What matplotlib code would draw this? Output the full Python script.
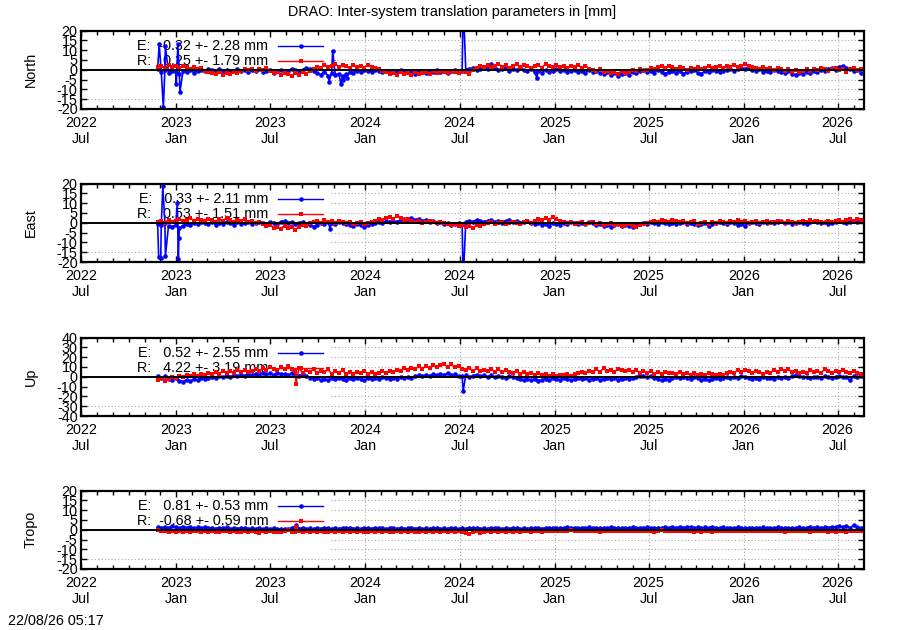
import matplotlib
matplotlib.use("Agg")
import matplotlib.pyplot as plt
import matplotlib.dates as mdates
from matplotlib.patches import Rectangle
import pandas as pd

plt.rcParams['font.family'] = ['Liberation Sans', 'DejaVu Sans']
plt.rcParams['font.size'] = 10.4

# weekly samples, first one on 2022-11-26
first_day = '2022-11-26'

north_E = [0.5, -1.0, 0.0, -1.5, -0.5, -1.0, -2.0, -0.5, -1.0, 0.0, -1.5, -0.5, 0.0,
           -0.5, 0.5, 0.0, -1.0, 0.5, -0.5, 0.0, -1.0, -0.5, 0.5, -0.5, 0.0, -1.0,
           0.0, -0.5, 0.5, -1.0, -0.5, 0.0, -1.5, -0.5, 0.0, -1.0, -0.5, 0.5, 0.0,
           -0.5, 0.0, 1.0, 0.5, -0.5, -1.5, -2.5, -1.0, -3.0, -1.5, -2.5, -2.0, -3.0,
           -2.0, -1.0, -1.5, -0.5, -1.0, 0.0, -0.5, -1.0, 0.0, -0.5, -1.0, -0.5, -1.5,
           -0.5, -1.0, 0.0, -1.5, -0.5, -1.0, -2.0, -0.5, -1.0, -1.5, -0.5, -1.0, 0.0,
           -1.0, -0.5, -1.5, -0.5, 0.0, -1.0, -0.5, 0.0, 0.5, 1.0, 0.0, 0.5, 1.5,
           0.5, 3.0, 1.0, 0.0, 0.5, 1.0, -0.5, 0.5, 0.0, 1.0, 0.0, -0.5, 0.5,
           -1.0, -0.5, -1.5, 0.0, -1.0, -0.5, 0.5, -0.5, 0.0, -1.0, -0.5, 0.0, -1.0,
           -0.5, -1.5, 0.0, -1.0, -0.5, -1.5, -2.0, -1.0, -2.5, -1.5, -3.0, -2.0, -1.5,
           -2.5, -1.0, -1.5, -0.5, 0.0, -1.0, -0.5, -1.5, 0.0, -1.0, -2.0, -1.0, -0.5,
           -1.5, -0.5, -2.0, -1.0, -0.5, 0.0, -1.5, -2.0, -0.5, -1.0, 0.0, -0.5, -1.0,
           -0.5, 0.0, 0.5, -0.5, 0.5, 1.0, 0.5, 1.5, 0.0, -0.5, 0.5, -1.0, -0.5,
           -1.0, 0.0, -0.5, -1.0, -1.5, -0.5, -2.0, -2.5, -1.5, -2.0, -1.0, -1.5, -0.5,
           -1.0, 0.0, -0.5, 0.5, 1.0, 0.0, 1.5, 2.0, 1.0, 0.5, -0.5, 0.0, -1.5]
north_R = [1.5, 2.0, 1.0, 2.5, 1.5, 2.0, 1.0, 2.0, 1.5, 0.5, 1.5, 0.5, 1.0,
           -0.5, -1.0, -1.5, -2.0, -1.0, -2.5, -1.5, -2.0, -1.0, -1.5, -0.5, 0.5, 0.0,
           0.5, -0.5, 0.5, 0.0, 1.0, -0.5, -1.5, -1.0, -2.5, -1.5, -2.0, -3.0, -1.5,
           -2.5, -1.0, -2.0, -0.5, 0.5, 1.5, 1.0, 2.5, 1.5, 2.0, 3.0, 1.5, 2.5,
           2.0, 1.0, 2.5, 1.5, 2.0, 1.0, 2.5, 1.5, 1.0, 0.5, -0.5, -1.0, -2.0,
           -1.5, -2.5, -1.0, -2.0, -1.5, -2.5, -1.0, -2.0, -1.5, -1.0, -2.0, -0.5, -1.5,
           -0.5, -1.0, -1.5, -0.5, -1.0, -1.5, -0.5, -1.0, -2.0, 0.0, 1.0, 2.0, 1.5,
           2.5, 1.5, 2.0, 3.0, 1.5, 2.5, 1.0, 2.0, 3.0, 1.5, 2.5, 2.0, 1.0,
           2.0, 2.5, 1.0, 3.0, 2.0, 1.5, 2.5, 1.5, 2.0, 1.0, 2.0, 1.5, 2.5,
           1.0, 2.0, 0.5, 0.0, -0.5, 0.5, -1.0, -0.5, -1.5, -1.0, -2.0, -0.5, -1.5,
           -1.0, 0.0, -0.5, 0.5, -0.5, 0.0, 1.0, 0.5, 1.5, 2.0, 1.0, 2.0, 1.5,
           0.5, 1.5, 1.0, 0.0, 1.0, 0.5, 1.5, 0.5, 1.0, 2.0, 1.0, 1.5, 2.0,
           1.0, 2.0, 1.5, 2.5, 1.5, 2.0, 3.0, 2.0, 1.5, 1.0, 0.5, 1.5, 0.5,
           1.0, 0.0, 1.0, 0.5, -0.5, 0.5, -1.0, 0.0, -1.0, -0.5, 0.5, -0.5, 0.5,
           0.0, 1.0, 0.5, -0.5, 0.5, 1.0, 0.0, 0.5, -1.0, 0.5, 1.0, 0.0, 0.5]

east_E = [-0.5, -1.0, 0.0, -1.5, -2.0, -1.0, -2.5, -1.5, -0.5, -1.0, 0.0, -0.5, 0.5,
          0.0, -0.5, 0.5, -1.0, 0.0, -0.5, 0.5, 0.0, -1.0, 0.5, -0.5, 0.0, 0.5,
          -0.5, 0.0, 0.5, 0.0, -0.5, 0.5, 0.0, -0.5, 0.5, 1.0, 0.0, 0.5, -0.5,
          0.0, 0.5, -0.5, -1.0, -2.0, -1.0, 0.0, -0.5, 0.5, 0.0, -0.5, 0.5, 0.0,
          -0.5, -1.0, -1.5, -0.5, -1.0, -2.0, -1.0, -0.5, 0.0, 0.5, 0.0, 1.0, 0.5,
          1.0, 0.5, 1.5, 2.0, 1.0, 2.5, 1.5, 2.0, 1.0, 1.5, 0.5, 1.0, 0.0,
          0.5, -0.5, 0.0, -1.0, -0.5, 0.0, -0.5, 0.5, 1.0, 0.5, 1.5, 1.0, 0.5,
          1.0, 1.5, 0.5, 1.0, 0.0, 1.0, 1.5, 0.5, 1.0, 0.0, 0.5, 1.0, 0.0,
          -0.5, 0.0, -1.0, -0.5, -1.5, 0.0, -0.5, -1.0, 0.0, -0.5, 0.5, 0.0, -0.5,
          0.0, -0.5, 0.5, 0.0, -1.0, -0.5, -1.5, -1.0, -2.0, -1.0, -0.5, -1.5, -1.0,
          -1.5, -2.0, -1.0, -0.5, 0.0, -0.5, 0.5, 0.0, -0.5, 0.5, 0.0, -0.5, 0.0,
          -0.5, 0.0, 0.5, -0.5, 0.0, -0.5, -1.0, -0.5, 0.0, -1.5, -0.5, 0.0, 0.5,
          0.0, -0.5, 0.5, 0.0, -1.0, -0.5, -1.5, 0.0, 0.5, 0.0, -0.5, 0.5, 0.0,
          0.5, 0.0, 0.5, 1.0, 0.0, 0.5, -0.5, 0.0, 0.5, 0.0, -0.5, 0.5, 1.0,
          0.5, 0.0, 0.5, -0.5, 0.0, 0.5, 1.0, 0.5, 0.0, 0.5, 1.0, 0.5, 1.0]
east_R = [0.5, 1.0, 0.0, 1.5, 0.5, 1.0, 2.0, 1.0, 1.5, 2.5, 1.0, 2.0, 1.5,
          1.0, 2.0, 1.5, 0.5, 2.0, 1.0, 2.5, 1.5, 0.5, 1.5, 1.0, 2.0, 0.5,
          1.0, 0.0, 0.5, -0.5, -1.5, -1.0, -2.5, -2.0, -3.0, -1.5, -2.5, -2.0, -3.5,
          -2.0, -1.0, -1.5, 0.0, 0.5, 1.0, 0.0, 1.5, 0.5, 1.0, 0.0, 1.0, 0.5,
          0.0, 0.5, -0.5, 0.0, 0.5, -0.5, 0.0, 0.5, 1.0, 2.0, 1.5, 2.5, 3.0,
          2.0, 3.5, 2.5, 1.5, 2.0, 1.0, 0.5, 1.0, 0.0, 0.5, 1.0, 0.5, 0.0,
          0.5, 0.0, -0.5, -1.0, -0.5, -1.5, -1.0, -2.0, -1.5, -2.5, -1.0, -1.5, -0.5,
          0.0, 0.5, -0.5, 0.0, 0.5, -0.5, 0.0, 0.5, 0.0, -0.5, 0.5, 1.0, 0.0,
          1.0, 2.0, 1.5, 2.5, 1.5, 3.0, 2.0, 1.0, 0.5, 0.0, 0.5, -0.5, 0.0,
          0.5, -0.5, 0.0, 0.5, -0.5, 0.0, -1.0, -0.5, 0.0, -1.0, -0.5, -1.5, -1.0,
          -0.5, -1.5, -2.0, -1.0, -0.5, 0.0, 0.5, 1.0, 0.5, 1.5, 1.0, 0.5, 1.5,
          1.0, 0.5, 1.0, 0.0, 0.5, 1.0, -0.5, 0.0, 0.5, -0.5, 0.5, 0.0, 1.0,
          0.5, 0.0, 1.0, 0.5, 1.5, 0.5, 1.0, 0.0, 0.5, 1.0, 0.0, 0.5, 1.0,
          0.0, 0.5, 1.0, 0.5, 0.0, 1.0, 0.5, 0.0, 0.5, 1.0, 0.5, 1.5, 0.5,
          1.0, 0.5, 0.0, 1.0, 0.5, 1.0, 1.5, 0.5, 1.5, 2.0, 1.0, 2.0, 1.5]

up_E = [1.0, -1.0, 0.5, -2.0, -3.0, -1.5, -4.0, -5.0, -3.0, -4.5, -2.5, -3.5, -1.5,
        -2.5, -1.0, 0.0, -1.5, 0.5, -0.5, 1.0, 0.0, 1.5, 0.5, 2.0, 1.0, 2.5,
        1.5, 3.0, 2.0, 4.0, 2.5, 3.5, 1.5, 4.0, 2.5, 3.0, 1.5, 3.5, 2.0,
        1.0, 2.5, 0.5, -1.0, -2.5, -1.5, -3.0, -2.0, -3.5, -1.5, -2.5, -1.0, -2.0,
        -3.0, -1.5, -2.5, -1.0, -2.0, -3.5, -1.5, -2.5, -1.0, -2.0, -0.5, -1.5, -2.5,
        -1.0, -2.0, -0.5, -1.5, 0.0, -1.0, 0.5, 1.5, 0.5, 2.0, 1.0, 2.5, 1.5,
        3.0, 2.0, 3.5, 1.5, 2.5, 1.0, 0.5, 1.5, 0.0, 1.0, 2.0, 0.5, 1.5,
        0.0, 1.5, -0.5, 1.0, 0.0, -1.0, 0.5, -0.5, -1.5, -2.5, -3.0, -2.0, -3.5,
        -2.5, -4.0, -3.0, -2.0, -3.5, -1.5, -2.5, -3.0, -1.5, -2.0, -3.5, -2.5, -1.5,
        -2.5, -1.0, -3.0, -2.0, -1.5, -3.0, -2.0, -1.0, -2.5, -1.5, -3.0, -2.0, -1.0,
        -2.0, -1.0, 0.0, 1.0, 0.5, -0.5, 0.5, -1.0, -2.5, -3.5, -2.0, -3.0, -1.5,
        -0.5, -1.5, 0.0, -1.0, -2.0, -0.5, -1.5, -3.0, -2.0, -3.5, -2.5, -1.0, -2.0,
        -1.0, -0.5, -1.5, 0.0, -1.0, 0.5, -0.5, -1.5, -2.5, -1.0, -2.0, -0.5, -1.5,
        -1.0, -2.0, -0.5, -1.5, 0.0, -1.0, 0.5, 1.5, 0.5, -0.5, 0.0, -1.5, -0.5,
        0.0, -1.0, 0.5, -0.5, -1.5, 0.0, 1.0, 0.0, -0.5, -3.5, 0.5, -0.5, 1.0]
up_R = [-3.0, -1.0, -4.0, -2.0, 0.0, -1.5, 1.0, 0.0, 2.0, 1.0, 3.0, 0.5, 2.5,
        1.5, 4.0, 2.5, 5.0, 3.0, 6.0, 4.0, 5.5, 3.5, 7.0, 5.0, 6.5, 4.5,
        6.0, 8.0, 5.5, 9.0, 7.0, 10.0, 8.0, 6.5, 9.5, 7.5, 11.0, 8.0, 6.0,
        9.0, 4.0, 7.0, 5.0, 8.0, 3.5, 6.0, 4.5, 7.5, 3.0, 5.5, 4.0, 6.5,
        3.0, 5.0, 2.5, 4.5, 3.5, 6.0, 3.0, 5.0, 2.5, 4.0, 6.0, 3.5, 5.5,
        4.5, 7.0, 5.5, 8.5, 6.5, 9.0, 7.5, 10.5, 8.0, 11.0, 9.0, 12.0, 9.5,
        11.5, 13.0, 10.0, 12.5, 9.5, 11.0, 8.0, 7.0, 9.0, 6.0, 8.5, 5.5, 7.0,
        6.0, 8.0, 5.0, 7.5, 4.5, 6.5, 5.0, 3.5, 5.5, 3.0, 4.5, 2.5, 4.0,
        2.0, 3.5, 1.5, 3.0, 1.0, 2.5, 0.5, 2.0, 1.5, 3.0, 1.0, 2.5, 3.5,
        5.0, 3.5, 6.0, 4.5, 7.5, 5.0, 8.5, 6.0, 7.0, 5.0, 8.0, 6.5, 5.5,
        7.0, 5.0, 6.5, 4.0, 6.0, 3.5, 5.5, 3.0, 4.5, 2.5, 5.0, 3.5, 4.0,
        3.0, 5.0, 2.5, 4.0, 2.0, 3.5, 1.5, 3.0, 2.0, 4.0, 2.5, 1.5, 3.0,
        2.0, 3.5, 5.0, 4.0, 6.5, 5.0, 7.0, 5.5, 4.0, 6.0, 4.5, 3.0, 5.0,
        4.0, 6.5, 5.0, 8.0, 6.0, 7.5, 4.5, 6.0, 3.5, 5.0, 4.0, 6.5, 5.0,
        6.0, 4.0, 7.5, 5.5, 3.5, 6.0, 4.5, 7.0, 5.0, 3.5, 6.0, 4.0, 3.0]

tropo_E = [1.2, 0.8, 1.5, 1.0, 1.8, 1.3, 0.9, 1.6, 1.1, 1.4, 0.7, 1.2, 0.9,
           1.3, 0.8, 1.1, 0.6, 1.0, 0.7, 1.2, 0.5, 0.9, 0.6, 1.0, 0.7, 0.4,
           0.8, 0.5, 0.9, 0.3, 0.7, 0.4, 0.8, 0.5, 0.2, 0.6, 0.4, 0.9, 1.5,
           0.6, 1.0, 0.5, 0.8, 0.4, 0.9, 0.6, 1.1, 0.7, 0.5, 0.9, 0.6, 1.0,
           0.7, 1.1, 0.6, 0.9, 0.5, 1.0, 0.8, 0.6, 1.1, 0.7, 0.9, 0.5, 0.8,
           1.0, 0.6, 0.9, 0.5, 0.8, 1.1, 0.6, 0.9, 0.4, 0.8, 0.6, 1.0, 0.7,
           0.5, 0.9, 0.6, 1.0, 0.7, 0.4, 0.8, 0.6, 1.1, 0.7, 0.9, 0.5, 0.8,
           0.6, 1.0, 0.7, 0.9, 0.5, 0.8, 0.6, 1.0, 0.7, 0.4, 0.8, 0.6, 0.9,
           0.7, 1.0, 0.6, 0.9, 0.8, 1.1, 0.7, 1.0, 0.8, 1.2, 0.9, 1.1, 0.8,
           1.0, 0.8, 1.2, 0.9, 1.1, 0.7, 1.0, 0.8, 1.2, 0.9, 1.1, 0.8, 1.0,
           0.9, 1.2, 0.8, 1.1, 0.9, 1.3, 1.0, 0.8, 1.1, 0.9, 1.2, 1.0, 1.3,
           1.0, 1.4, 1.1, 1.6, 1.2, 1.0, 1.3, 0.9, 1.2, 1.0, 1.4, 1.1, 0.9,
           1.2, 0.9, 1.1, 0.8, 1.2, 1.0, 0.7, 1.0, 0.8, 1.1, 0.9, 1.2, 0.8,
           1.0, 0.8, 1.2, 0.9, 1.1, 0.7, 1.0, 0.8, 1.2, 0.9, 1.1, 1.3, 1.0,
           1.2, 0.9, 1.3, 1.1, 1.5, 1.2, 2.0, 1.4, 1.8, 1.1, 2.2, 1.3, 1.0]
tropo_R = [-0.3, -0.8, -0.5, -1.0, -0.6, -1.2, -0.7, -0.9, -0.4, -1.1, -0.6, -0.8, -1.3,
           -0.7, -1.0, -0.5, -0.9, -1.2, -0.6, -0.8, -1.1, -0.5, -0.9, -1.4, -0.7, -1.0,
           -0.6, -1.2, -1.6, -0.8, -1.1, -0.7, -1.3, -0.9, -1.0, -0.6, -0.2, -0.9, -1.2,
           -0.8, -1.1, -0.6, -1.0, -0.7, -1.2, -0.5, -0.9, -1.1, -0.6, -1.0, -0.8, -1.3,
           -0.7, -1.0, -0.6, -1.1, -0.8, -1.3, -0.9, -0.6, -1.0, -0.8, -1.2, -0.7, -1.0,
           -1.4, -0.8, -1.1, -0.6, -1.0, -0.7, -1.2, -0.9, -0.6, -1.3, -0.8, -1.0, -0.7,
           -1.1, -0.8, -1.2, -0.6, -1.0, -0.7, -1.3, -1.6, -2.0, -1.2, -0.8, -1.5, -1.0,
           -0.7, -1.1, -0.6, -0.9, -0.5, -1.0, -0.7, -0.9, -0.6, -1.1, -0.8, -0.6, -1.0,
           -0.7, -0.5, -0.9, -0.6, -0.8, -0.4, -0.7, -0.5, -0.8, -0.6, -0.3, -0.7, -0.5,
           -0.8, -0.6, -0.4, -0.7, -0.5, -0.9, -0.6, -0.4, -0.7, -0.5, -0.8, -0.6, -0.4,
           -0.7, -0.5, -0.8, -0.6, -0.4, -0.7, -0.5, -0.9, -0.6, -0.3, -0.7, -0.5, -0.8,
           -0.6, -0.4, -0.7, -0.5, -0.8, -1.2, -0.6, -0.9, -0.5, -0.7, -1.1, -0.6, -0.8,
           -0.5, -0.7, -0.4, -0.8, -0.6, -0.5, -0.7, -0.4, -0.6, -0.8, -0.5, -0.7, -0.6,
           -0.8, -0.5, -0.7, -0.6, -0.9, -0.5, -0.7, -0.4, -0.8, -0.6, -0.5, -0.9, -0.6,
           -0.7, -0.5, -0.8, -1.0, -0.6, -0.9, -0.5, -0.7, -1.1, -0.6, -0.8, -0.5, -0.7]

# single-day outliers (dates, values)
north_E_out_dates = ['2022-11-29', '2022-12-07', '2022-12-11', '2023-01-01', '2023-01-04',
                     '2023-01-08', '2023-10-23', '2023-10-30', '2023-11-15', '2023-11-19',
                     '2023-11-26', '2024-07-08', '2024-11-27']
north_E_out_vals = [13.0, -19.0, 12.0, -7.5, 13.0, -11.5, -6.0, 9.5, -7.5, -5.0, -4.0, 35.0, -4.0]
east_E_out_dates = ['2022-11-28', '2022-12-02', '2022-12-06', '2022-12-11', '2023-01-03',
                    '2023-01-05', '2023-01-06', '2023-10-25', '2024-07-08']
east_E_out_vals = [-17.5, -18.0, 18.5, -17.0, 10.0, -18.5, -8.0, -3.0, -30.0]
up_E_out_dates = ['2024-07-08']
up_E_out_vals = [-14.5]
up_R_out_dates = ['2023-08-20']
up_R_out_vals = [-7.0]
tropo_E_out_dates = ['2023-08-20']
tropo_E_out_vals = [2.5]
tropo_R_out_dates = ['2023-08-21']
tropo_R_out_vals = [1.5]

panel_names = ['North', 'East', 'Up', 'Tropo']
panel_limits = [20, 20, 40, 20]
panel_steps = [5, 5, 10, 5]
E_labels = ['E:  -0.32 +- 2.28 mm', 'E:   0.33 +- 2.11 mm', 'E:   0.52 +- 2.55 mm', 'E:   0.81 +- 0.53 mm']
R_labels = ['R:   0.25 +- 1.79 mm', 'R:   0.53 +- 1.51 mm', 'R:   4.22 +- 3.19 mm', 'R:  -0.68 +- 0.59 mm']


def make_series(weekly, out_dates=(), out_vals=()):
    s = pd.Series(weekly, index=pd.date_range(first_day, periods=len(weekly), freq='7D'))
    if len(out_dates):
        s = pd.concat([s, pd.Series(out_vals, index=pd.to_datetime(list(out_dates)))])
    return s.sort_index()


series_E = [make_series(north_E, north_E_out_dates, north_E_out_vals),
            make_series(east_E, east_E_out_dates, east_E_out_vals),
            make_series(up_E, up_E_out_dates, up_E_out_vals),
            make_series(tropo_E, tropo_E_out_dates, tropo_E_out_vals)]
series_R = [make_series(north_R),
            make_series(east_R),
            make_series(up_R, up_R_out_dates, up_R_out_vals),
            make_series(tropo_R, tropo_R_out_dates, tropo_R_out_vals)]

x0 = pd.Timestamp('2022-07-01')
x1 = pd.Timestamp('2026-08-21')
key_right = 0.318  # key box covers the grid up to here
key_bottom = 0.19

fig = plt.figure(figsize=(9, 6.3), dpi=100)
panel_bottoms_px = [109, 262, 416, 569]

for i, name in enumerate(panel_names):
    bot = 1 - panel_bottoms_px[i] / 630
    ax = fig.add_axes([81 / 900, bot, 783 / 900, 78.5 / 630])
    lim = panel_limits[i]
    step = panel_steps[i]
    ax.set_xlim(x0, x1)
    ax.set_ylim(-lim, lim)
    yt = list(range(-lim, lim + 1, step))
    ax.set_yticks(yt)
    ax.set_yticklabels([str(v) for v in yt])

    ax.xaxis.set_major_locator(mdates.MonthLocator(bymonth=[1, 7]))
    ax.xaxis.set_minor_locator(mdates.MonthLocator())
    ax.xaxis.set_major_formatter(mdates.DateFormatter('%Y\n%b'))
    ax.tick_params(axis='both', which='both', direction='in', top=True, right=True, width=1.0)
    ax.tick_params(axis='both', which='major', length=4.5)
    ax.tick_params(axis='x', which='minor', length=3)
    ax.tick_params(axis='y', pad=2.5)
    ax.tick_params(axis='x', pad=5)
    for sp in ax.spines.values():
        sp.set_linewidth(1.6)

    # dotted grid, partly hidden by the opaque key box
    span = (x1 - x0).days
    for t in ax.get_xticks():
        d = mdates.num2date(t).replace(tzinfo=None)
        if (d - x0).days / span > key_right and d < x1:
            ax.axvline(d, color='#a8a8a8', ls=(0, (1, 2)), lw=0.8, zorder=0.5)
    for v in yt[1:-1]:
        if v != 0:
            ax.axhline(v, color='#a8a8a8', ls=(0, (1, 2)), lw=0.8, zorder=0.5)
    ax.add_patch(Rectangle((0, key_bottom), key_right, 1 - key_bottom, transform=ax.transAxes,
                           facecolor='white', edgecolor='none', zorder=0.8))

    sE = series_E[i]
    sR = series_R[i]
    ax.plot(sE.index, sE.values, color='#0000ff', lw=1.2, marker='o', ms=3.3, mew=0, zorder=2)
    ax.plot(sR.index, sR.values, color='#ff0000', lw=1.2, marker='s', ms=3.5, mew=0, zorder=2.1)
    ax.axhline(0, color='black', lw=1.4, zorder=2.5)

    # key: right-aligned text with a line sample
    for lab, col, mk, yk in [(E_labels[i], '#0000ff', 'o', 0.797), (R_labels[i], '#ff0000', 's', 0.608)]:
        ax.text(0.239, yk, lab, transform=ax.transAxes, ha='right', va='center', zorder=1)
        ax.plot([0.252, 0.309], [yk, yk], color=col, lw=1.0, transform=ax.transAxes, zorder=1)
        ax.plot([0.2805], [yk], color=col, marker=mk, ms=3.3, mew=0, transform=ax.transAxes, zorder=1)

    fig.text(31 / 900, bot + 78.5 / 630 / 2, name, rotation=90, ha='center', va='center')

fig.text(0.502, 1 - 12 / 630, 'DRAO: Inter-system translation parameters in [mm]', ha='center', va='center')
fig.text(8 / 900, 1 - 621 / 630, '22/08/26 05:17', ha='left', va='center')

fig.savefig('out.png', dpi=100)
